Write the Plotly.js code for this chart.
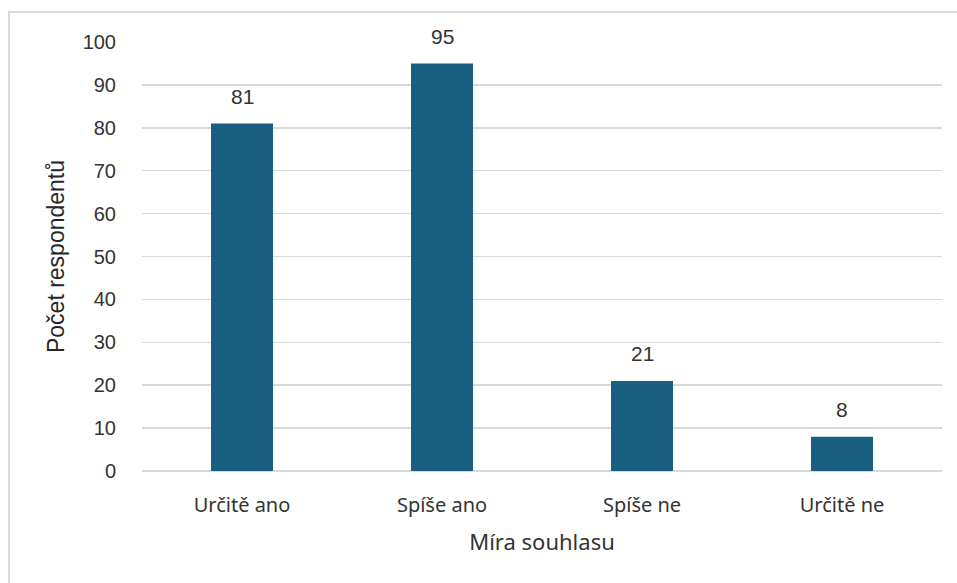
<!DOCTYPE html>
<html>
<head>
<meta charset="utf-8">
<script src="https://cdn.plot.ly/plotly-3.0.1.min.js"></script>
<style>
  html, body { margin: 0; padding: 0; background: #ffffff; }
  #chart { width: 957px; height: 583px; }
</style>
</head>
<body>
<div id="chart"></div>
<script>
// Survey answers: level of agreement vs. number of respondents
const categories = ['Určitě ano', 'Spíše ano', 'Spíše ne', 'Určitě ne'];
const counts = [81, 95, 21, 8];
const yTicks = [0, 10, 20, 30, 40, 50, 60, 70, 80, 90, 100];

const barColor = '#185f81';
const numFont = 'Liberation Sans, Arial, sans-serif';
const catFont = 'Noto Sans, Open Sans, sans-serif';

const trace = {
  type: 'bar',
  x: categories,
  y: counts,
  width: 0.31,
  marker: { color: barColor },
  hoverinfo: 'x+y'
};

// value labels floating above each bar
const valueLabels = categories.map((c, i) => ({
  x: c,
  y: counts[i],
  xref: 'x',
  yref: 'y',
  text: String(counts[i]),
  showarrow: false,
  yanchor: 'middle',
  yshift: 27,
  font: { family: numFont, size: 21, color: '#333333' }
}));

const layout = {
  width: 957,
  height: 583,
  margin: { l: 142, r: 15, t: 42, b: 112 },
  paper_bgcolor: '#ffffff',
  plot_bgcolor: '#ffffff',
  showlegend: false,
  xaxis: {
    type: 'category',
    range: [-0.5, 3.5],
    showgrid: false,
    zeroline: false,
    showline: false,
    ticks: 'outside',
    ticklen: 16,
    tickcolor: 'rgba(0,0,0,0)',
    tickfont: { family: catFont, size: 20, color: '#333333' },
    title: {
      text: 'Míra souhlasu',
      font: { family: catFont, size: 22, color: '#333333' },
      standoff: 17
    }
  },
  yaxis: {
    range: [0, 100],
    tickvals: yTicks,
    ticktext: yTicks.map(String),
    showgrid: true,
    gridcolor: '#d9d9d9',
    gridwidth: 1.5,
    zeroline: true,
    zerolinecolor: '#d9d9d9',
    zerolinewidth: 1.5,
    showline: false,
    ticks: 'outside',
    ticklen: 21,
    tickcolor: 'rgba(0,0,0,0)',
    tickfont: { family: numFont, size: 20, color: '#333333' },
    title: {
      text: 'Počet respondentů',
      font: { family: numFont, size: 23, color: '#262626' },
      standoff: 11
    }
  },
  annotations: valueLabels,
  shapes: [{
    type: 'rect',
    xref: 'paper', yref: 'paper',
    x0: -0.16625, x1: 1.03,
    y0: -0.28, y1: 1.0699,
    line: { color: '#d9d9d9', width: 2 },
    fillcolor: 'rgba(0,0,0,0)',
    layer: 'below'
  }]
};

Plotly.newPlot('chart', [trace], layout, { displayModeBar: false, staticPlot: true });
</script>
</body>
</html>
